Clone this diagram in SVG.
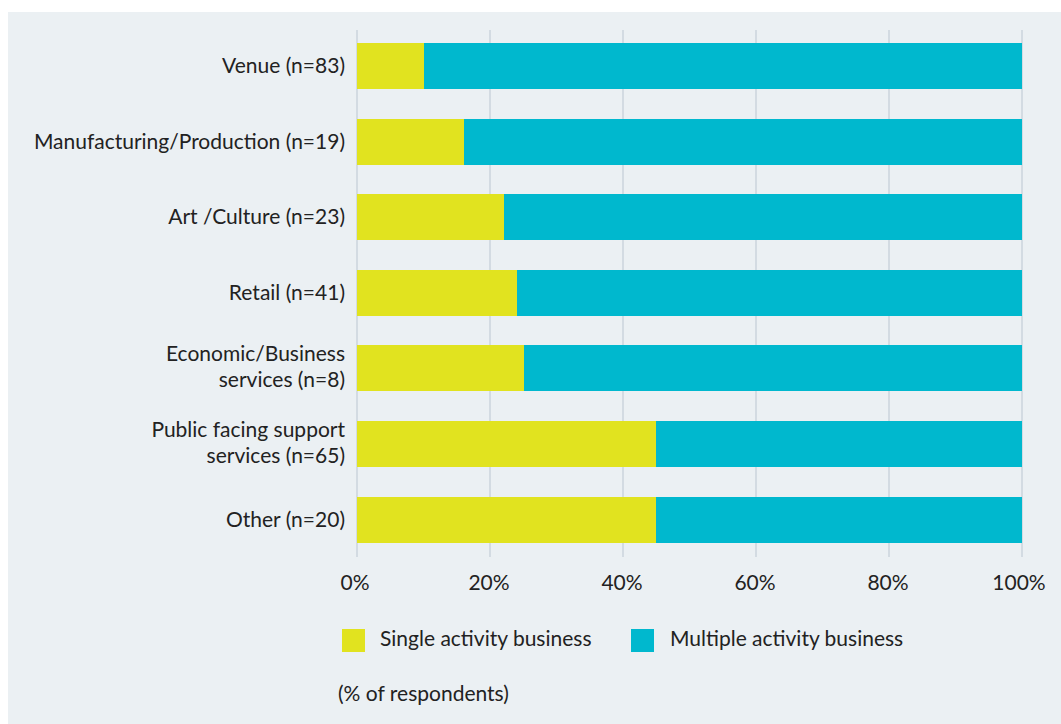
<svg xmlns="http://www.w3.org/2000/svg" width="1061" height="724" viewBox="0 0 1061 724">
<style>
text{font-family:"Lato","Open Sans","Liberation Sans",sans-serif;font-size:21px;fill:#222}
.lbl{text-anchor:end}
.tick{text-anchor:middle}
.grid{stroke:#CBD5DC;stroke-width:1.5}
.s{fill:#E1E31F}
.m{fill:#00B8CE}
</style>
<rect x="0" y="0" width="1061" height="724" fill="#FFFFFF"/>
<rect x="8" y="12" width="1053" height="712" fill="#EBF0F3"/>
<g id="grid">
<line class="grid" x1="357" y1="30" x2="357" y2="557"/>
<line class="grid" x1="490" y1="30" x2="490" y2="557"/>
<line class="grid" x1="623" y1="30" x2="623" y2="557"/>
<line class="grid" x1="756" y1="30" x2="756" y2="557"/>
<line class="grid" x1="889" y1="30" x2="889" y2="557"/>
<line class="grid" x1="1022" y1="30" x2="1022" y2="557"/>
</g>
<g id="venue">
<rect class="s" x="357" y="43" width="67" height="46"/>
<rect class="m" x="424" y="43" width="598" height="46"/>
<text class="lbl" x="345" y="73">Venue (n=83)</text>
</g>
<g id="manufacturing">
<rect class="s" x="357" y="119" width="107" height="46"/>
<rect class="m" x="464" y="119" width="558" height="46"/>
<text class="lbl" x="345" y="149">Manufacturing/Production (n=19)</text>
</g>
<g id="art">
<rect class="s" x="357" y="194" width="147" height="46"/>
<rect class="m" x="504" y="194" width="518" height="46"/>
<text class="lbl" x="345" y="224">Art /Culture (n=23)</text>
</g>
<g id="retail">
<rect class="s" x="357" y="270" width="160" height="46"/>
<rect class="m" x="517" y="270" width="505" height="46"/>
<text class="lbl" x="345" y="300">Retail (n=41)</text>
</g>
<g id="economic">
<rect class="s" x="357" y="345" width="167" height="46"/>
<rect class="m" x="524" y="345" width="498" height="46"/>
<text class="lbl" x="345" y="361">Economic/Business</text>
<text class="lbl" x="345" y="387">services (n=8)</text>
</g>
<g id="public">
<rect class="s" x="357" y="421" width="299" height="46"/>
<rect class="m" x="656" y="421" width="366" height="46"/>
<text class="lbl" x="345" y="437">Public facing support</text>
<text class="lbl" x="345" y="463">services (n=65)</text>
</g>
<g id="other">
<rect class="s" x="357" y="497" width="299" height="46"/>
<rect class="m" x="656" y="497" width="366" height="46"/>
<text class="lbl" x="345" y="527">Other (n=20)</text>
</g>
<g id="axis">
<text class="tick" x="355" y="590">0%</text>
<text class="tick" x="489" y="590">20%</text>
<text class="tick" x="622" y="590">40%</text>
<text class="tick" x="755" y="590">60%</text>
<text class="tick" x="888" y="590">80%</text>
<text class="tick" x="1019" y="590">100%</text>
</g>
<g id="legend">
<rect class="s" x="342" y="629" width="23" height="23"/>
<text x="380" y="646">Single activity business</text>
<rect class="m" x="631" y="629" width="23" height="23"/>
<text x="670" y="646">Multiple activity business</text>
</g>
<text x="338" y="701">(% of respondents)</text>
</svg>
